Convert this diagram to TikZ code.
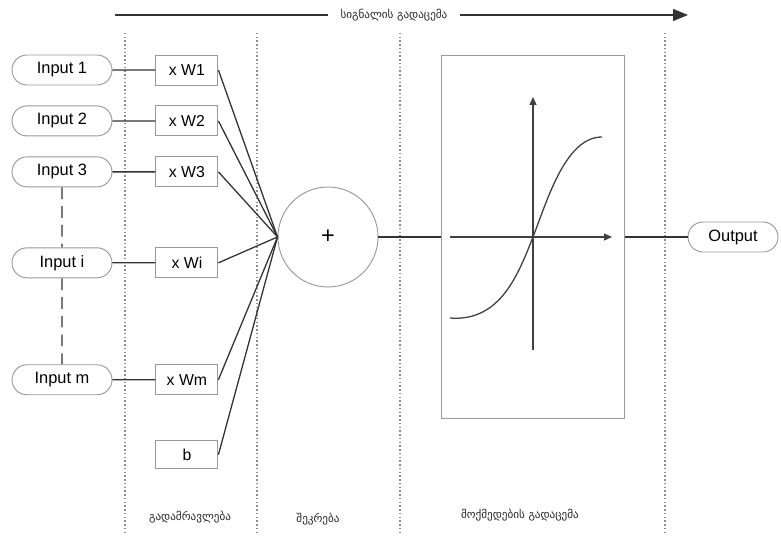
\documentclass[tikz,border=0pt]{standalone}
\usepackage{fontspec}
\setmainfont{Liberation Sans}
\newfontfamily\geofont[Script=Georgian]{DejaVu Sans}
\usetikzlibrary{arrows.meta, positioning, shapes.misc}
\tikzset{
  inp/.style={rounded rectangle, draw=black!40, thick, fill=white,
              minimum width=3.0cm, minimum height=0.9cm, inner sep=0pt,
              font=\fontsize{14}{16}\selectfont},
  wbox/.style={rectangle, draw=black!40, thick, fill=white,
               minimum width=1.86cm, minimum height=0.9cm, inner sep=0pt,
               font=\fontsize{13.5}{16}\selectfont},
  wire/.style={draw=black!80, line width=1.1pt},
  sep/.style={draw=black!45, line width=1.2pt, dotted},
  geolbl/.style={font=\geofont\fontsize{9.5}{11}\selectfont, text=black!85},
}

\begin{document}
\begin{tikzpicture}[
    x=0.03cm, y=-0.03cm,
    node distance=0.6cm and 1.29cm,
    sumc/.style={circle, draw=black!40, thick, minimum size=3.0cm,
                 inner sep=0pt, font=\fontsize{20}{22}\selectfont},
    actbox/.style={rectangle, draw=black!40, thick,
                   minimum width=5.49cm, minimum height=10.89cm},
    axis/.style={draw=black!75, line width=1.1pt,
                 -{Triangle[length=2.4mm, width=2.1mm]}},
  ]
  \useasboundingbox (0,0) rectangle (781,541);

  % section separators
  \foreach \sx in {125,257,400,665}
    \draw[sep] (\sx,33) -- (\sx,532);

  % inputs
  \node[inp] (in1) at (62,70) {Input 1};
  \node[inp, below=of in1] (in2) {Input 2};
  \node[inp, below=of in2] (in3) {Input 3};
  \node[inp, below=1.8cm of in3] (ini) {Input i};
  \node[inp, below=2.58cm of ini] (inm) {Input m};

  % weights
  \node[wbox, right=of in1] (w1) {x W1};
  \node[wbox, right=of in2] (w2) {x W2};
  \node[wbox, right=of in3] (w3) {x W3};
  \node[wbox, right=of ini] (wi) {x Wi};
  \node[wbox, right=of inm] (wm) {x Wm};
  \node[wbox, below=1.35cm of wm, minimum height=0.84cm] (b) {b};

  % summation and activation
  \node[sumc] (sum) at (328,237) {+};
  \node[actbox] (act) at (533,237) {};
  \node[inp, minimum width=2.7cm] (out) at (733,237) {Output};

  \foreach \k in {1,2,3,i,m}
    \draw[wire] (in\k) -- (w\k);
  \draw[wire, dashed, dash pattern=on 10pt off 6pt] (in3) -- (ini);
  \draw[wire, dashed, dash pattern=on 10pt off 6pt] (ini) -- (inm);

  \foreach \k in {w1,w2,w3,wi,wm,b}
    \draw[wire] (\k.east) -- (sum.west);

  \draw[wire] (sum) -- (act);
  \draw[wire] (act) -- (out);

  % transfer curve
  \coordinate (org) at (533,237);
  \draw[axis] (450,237) -- (612,237);
  \draw[axis] (533,350) -- (533,97);
  \draw[draw=black!75, line width=1.1pt]
    (450,318) .. controls (500,322) and (518,275) .. (org)
    .. controls (548,198) and (566,137) .. (602,137);

  % labels
  \node[geolbl] (flow) at (394,15) {სიგნალის გადაცემა};
  \coordinate (fs) at (115,15);
  \coordinate (fe) at (688,15);
  \draw[wire] (fs) -- ([xshift=-7pt]flow.west);
  \draw[wire, -{Triangle[length=4.5mm, width=3.6mm]}]
    ([xshift=7pt]flow.east) -- (fe);

  \node[geolbl] (lmul) at (190,517) {გადამრავლება};
  \node[geolbl] (ladd) at (318,519) {შეკრება};
  \node[geolbl] (lact) at (520,515) {მოქმედების გადაცემა};
\end{tikzpicture}
\end{document}
